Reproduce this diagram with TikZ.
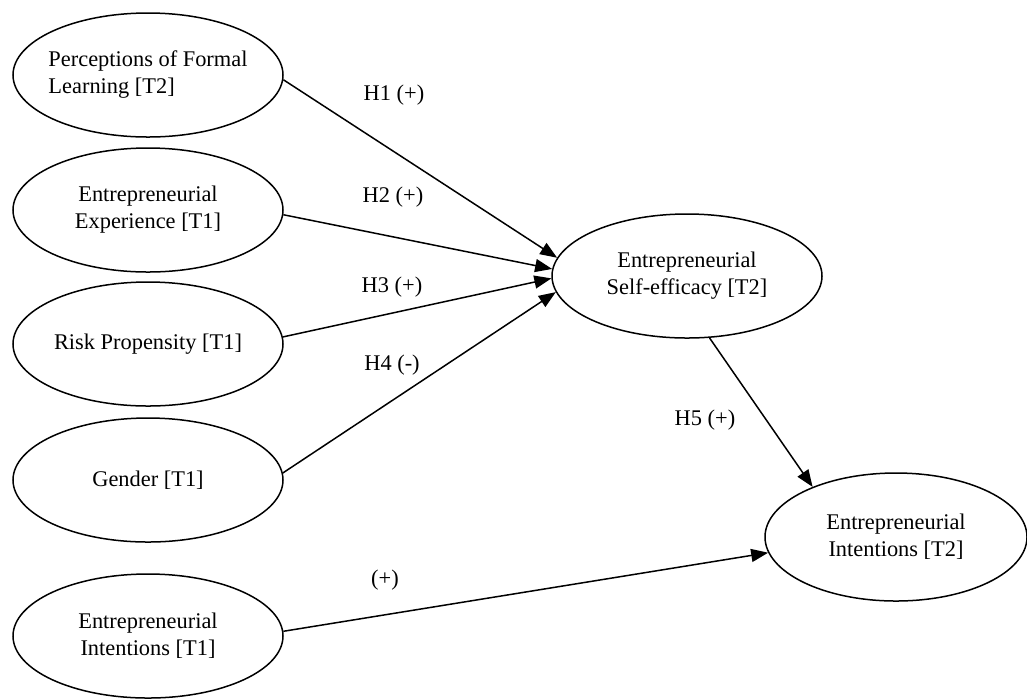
\documentclass[tikz,border=0pt]{standalone}
\usepackage{fontspec}
\setmainfont{Liberation Serif}
\usetikzlibrary{shapes.geometric,arrows.meta}
\tikzset{
  lat/.style={ellipse, draw, line width=0.75pt, inner sep=0pt,
    minimum width=135pt, minimum height=62pt, align=center,
    font=\fontsize{11.2}{13.5}\selectfont},
  path/.style={line width=0.75pt, -{Triangle[length=8.5pt,width=6.5pt]}},
  lbl/.style={font=\fontsize{11.2}{13}\selectfont, inner sep=0pt}
}
\begin{document}
\begin{tikzpicture}[x=0.5pt,y=-0.5pt]
\useasboundingbox (0,0) rectangle (1027,698);
\node[lat, align=left, inner xsep=-10pt] (pfl) at (148,75) {Perceptions of Formal\\Learning [T2]};
\node[lat] (ee) at (148,210) {Entrepreneurial\\Experience [T1]};
\node[lat] (rp) at (148,344) {Risk Propensity [T1]};
\node[lat] (gen) at (148,480) {Gender [T1]};
\node[lat] (ei1) at (148,636) {Entrepreneurial\\Intentions [T1]};
\node[lat] (ese) at (687,276) {Entrepreneurial\\Self-efficacy [T2]};
\node[lat, minimum width=131pt, minimum height=64pt] (ei2) at (896,537) {Entrepreneurial\\Intentions [T2]};

\draw[path] (pfl.-2) -- (ese.172);
\draw[path] (ee.-2) -- (ese.177.5);
\draw[path] (rp.3.4) -- (ese.181.7);
\draw[path] (gen.3.4) -- (ese.187.2);
\draw[path] (ese.290) -- (ei2.149);
\draw[path] (ei1.2.5) -- (ei2.187);

\node[lbl] (l1) at (394,95) {H1 (+)};
\node[lbl] (l2) at (393,197) {H2 (+)};
\node[lbl] (l3) at (392,287) {H3 (+)};
\node[lbl] (l4) at (392,365) {H4 (-)};
\node[lbl] (l5) at (705,420) {H5 (+)};
\node[lbl] (l6) at (385,580) {(+)};
\end{tikzpicture}
\end{document}
